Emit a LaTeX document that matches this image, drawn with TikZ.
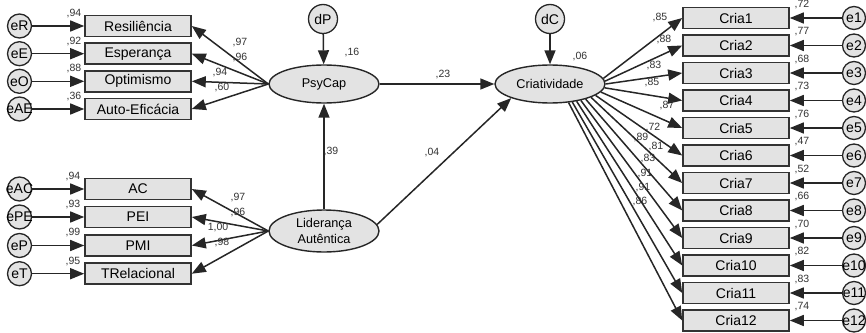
\documentclass[tikz,border=0pt]{standalone}
\usepackage{fontspec}
\setmainfont{Liberation Sans}
\usetikzlibrary{arrows.meta,shapes.geometric}
\begin{document}
\begin{tikzpicture}[x=1pt,y=-1pt,
  ln/.style={line width=1.5pt, draw=black!85},
  arr/.style={ln, -{Triangle[length=14pt,width=11pt]}},
  ind/.style={draw=black!80, line width=1.6pt, fill=gray!22, rectangle, minimum width=106pt, minimum height=21pt, inner sep=0pt, font=\fontsize{14}{16}\selectfont},
  lat/.style={draw=black!85, line width=1.4pt, fill=gray!22, ellipse, minimum width=110pt, minimum height=38pt, inner sep=0pt, font=\fontsize{12.7}{15.5}\selectfont, align=center},
  errc/.style={draw=black!85, line width=1.3pt, fill=gray!22, circle, minimum size=24pt, inner sep=0pt},
  elab/.style={font=\fontsize{14}{16}\selectfont, inner sep=0pt},
  val/.style={font=\fontsize{10.5}{12}\selectfont, inner sep=0pt, text=black!80}
]
\useasboundingbox (0,0) rectangle (866,332);

% latent variables
\node[lat] (psy) at (324,84) {PsyCap};
\node[lat] (crt) at (550,84) {Criatividade};
\node[lat, minimum height=42pt] (lid) at (324,231) {Liderança\\Autêntica};
\node[errc, minimum size=29pt, label={[elab]center:dP}] (dP) at (323,19) {};
\node[errc, minimum size=29pt, label={[elab]center:dC}] (dC) at (550,19) {};

% PsyCap indicators
\foreach \nm/\tx/\yv/\er/\ev/\ld/\lx/\ly in {
  res/Resiliência/26/eR/{,94}/{,97}/240/43,
  esp/Esperança/53.7/eE/{,92}/{,96}/240/58,
  opt/Optimismo/81.3/eO/{,88}/{,94}/220/73,
  aut/Auto-Eficácia/109/eAE/{,36}/{,60}/222/88}{
  \node[ind] (\nm) at (138,\yv) {\tx};
  \node[errc, label={[elab]center:\er}] (\er) at (19.5,\yv) {};
  \draw[arr] (\er) -- (\nm);
  \draw[arr] (psy.west) -- (\nm.east);
  \node[val] at (74,\yv-12.5) {\ev};
  \node[val] at (\lx,\ly) {\ld};
}

% Lideranca indicators
\foreach \nm/\tx/\yv/\er/\ev/\ld/\lx/\ly in {
  ac/AC/189/eAC/{,94}/{,97}/238/198,
  pei/PEI/217/ePE/{,93}/{,96}/238/213,
  pmi/PMI/245.5/eP/{,99}/{1,00}/218/228,
  trel/TRelacional/273.7/eT/{,95}/{,98}/222/243}{
  \node[ind] (\nm) at (138,\yv) {\tx};
  \node[errc, label={[elab]center:\er}] (\er) at (19.5,\yv) {};
  \draw[arr] (\er) -- (\nm);
  \draw[arr] (lid.west) -- (\nm.east);
  \node[val] at (73,\yv-12.5) {\ev};
  \node[val] at (\lx,\ly) {\ld};
}

% structural paths
\draw[arr] (dP) -- (psy);
\draw[arr] (dC) -- (crt);
\draw[arr] (psy.east) -- (crt.west);
\draw[arr] (lid.north) -- (psy.south);
\draw[arr] (lid.7) -- (crt.200);
\node[val] at (352,53) {,16};
\node[val] at (580,57) {,06};
\node[val] at (443,75) {,23};
\node[val] at (331,152) {,39};
\node[val] at (432,153) {,04};

% Criatividade indicators
\foreach \i/\ang/\ev/\ld/\lx/\ly in {
  1/6/{,72}/{,85}/660/18,
  2/3/{,77}/{,88}/664/40,
  3/0/{,68}/{,83}/654/66,
  4/-4/{,73}/{,85}/652/83,
  5/-9/{,76}/{,87}/667/106,
  6/-14/{,47}/{,72}/653/128,
  7/-18/{,52}/{,89}/641/138,
  8/-23/{,66}/{,81}/656/147,
  9/-28/{,70}/{,83}/648/159,
  10/-33/{,82}/{,91}/645/174,
  11/-39/{,83}/{,91}/643/188,
  12/-45/{,74}/{,86}/640/202}{
  \pgfmathsetmacro{\yy}{18+27.5*(\i-1)}
  \node[ind] (c\i) at (736,\yy) {Cria\i};
  \node[errc, minimum size=23pt, label={[elab]center:e\i}] (e\i) at (854,\yy) {};
  \draw[arr] (e\i) -- (c\i);
  \draw[arr] (crt.\ang) -- (c\i.west);
  \node[val] at (802,\yy-13.5) {\ev};
  \node[val] at (\lx,\ly) {\ld};
}
\end{tikzpicture}
\end{document}
